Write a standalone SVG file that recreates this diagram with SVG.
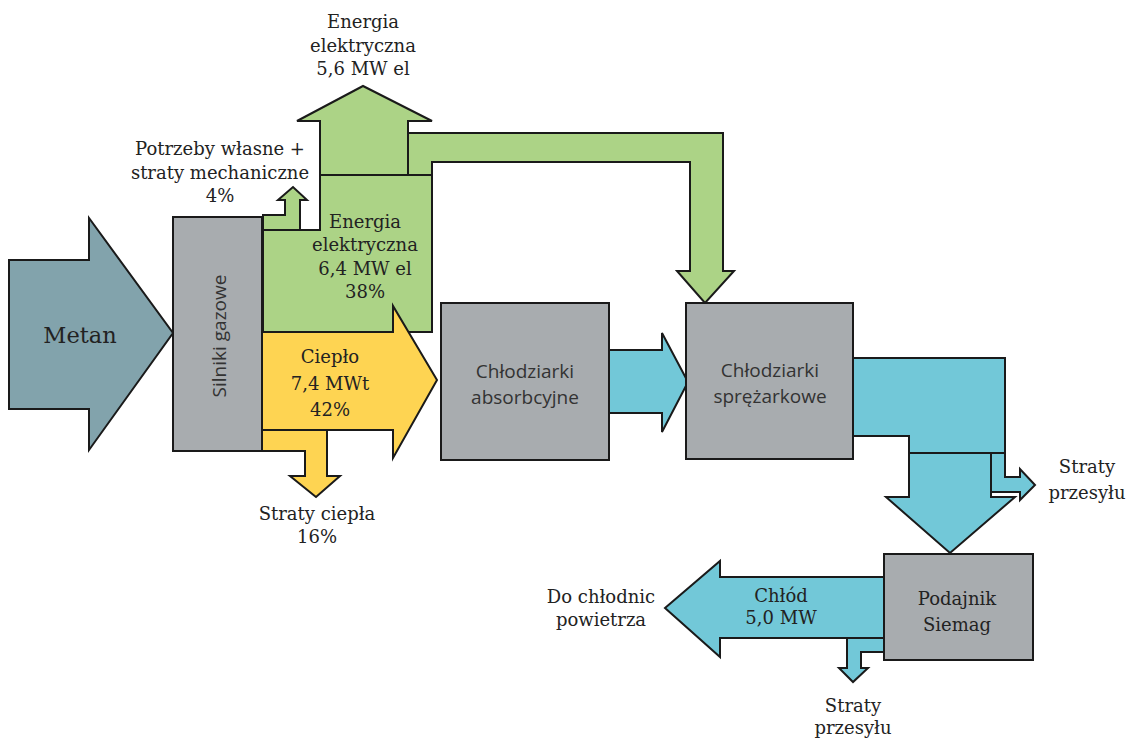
<svg xmlns="http://www.w3.org/2000/svg" width="1126" height="738" viewBox="0 0 1126 738">
<style>
.flow{stroke:#1a1a1a;stroke-width:2;stroke-linejoin:miter}
.green{fill:#acd386}
.yellow{fill:#fed452}
.cyan{fill:#72c8d8}
.metan{fill:#82a3ac}
.box{fill:#a8acaf;stroke:#1a1a1a;stroke-width:2}
.serif{font-family:"DejaVu Serif","Liberation Serif",serif;font-size:18px;fill:#222;text-anchor:middle}
.sans{font-family:"Open Sans","DejaVu Sans",sans-serif;font-size:19px;fill:#333;text-anchor:middle}
</style>
<rect width="1126" height="738" fill="#fff"/>
<g id="connectors">
  <polygon id="flow-metan" class="flow metan" points="9,260 89,260 89,218 173,333 89,450 89,409 9,409"/>
  <polygon id="flow-el-out" class="flow green" points="320,175 320,121 297,121 363,86 432,121 408,121 408,175"/>
  <polygon id="flow-el-branch" class="flow green" points="408,133 723,133 723,271 734,271 705,303 677,271 690,271 690,162 432,162 432,175 408,175"/>
  <polygon id="flow-el-main" class="flow green" points="263,230 320,230 320,175 432,175 432,332 263,332"/>
  <polygon id="flow-potrzeby" class="flow green" points="263,230 263,215 285,215 285,200 278,200 293,187 307,200 300,200 300,230"/>
  <polygon id="flow-cieplo" class="flow yellow" points="262,332 393,332 393,306 437,380 393,458 393,430 262,430"/>
  <polygon id="flow-straty-ciepla" class="flow yellow" points="262,430 327,430 327,476 340,476 316,497 290,476 305,476 305,451 262,451"/>
  <polygon id="flow-abs-spr" class="flow cyan" points="609,350 662,350 662,333 688,382 662,432 662,413 609,413"/>
  <polygon id="flow-spr-main" class="flow cyan" points="853,358 1005,358 1005,453 909,453 909,436 853,436"/>
  <polygon id="flow-spr-down" class="flow cyan" points="909,453 991,453 991,497 1015,497 950,553 886,497 909,497"/>
  <polygon id="flow-spr-loss" class="flow cyan" points="991,453 1005,453 1005,477 1020,477 1020,469 1035,485 1020,500 1020,492 991,492"/>
  <polygon id="flow-chlod" class="flow cyan" points="884,577 720,577 720,561 665,608 720,657 720,638 884,638"/>
  <polygon id="flow-chlod-loss" class="flow cyan" points="847,638 884,638 884,652 861,652 861,668 868,668 853,682 839,668 847,668"/>
</g>
<g id="node-silniki">
  <rect class="box" x="173" y="217" width="89" height="234"/>
  <text class="sans" transform="translate(226,336) rotate(-90)">Silniki gazowe</text>
</g>
<g id="node-absorbcyjne">
  <rect class="box" x="441" y="303" width="168" height="157"/>
  <text class="sans" x="525" y="378">Chłodziarki</text>
  <text class="sans" x="525" y="404">absorbcyjne</text>
</g>
<g id="node-sprezarkowe">
  <rect class="box" x="686" y="303" width="167" height="156"/>
  <text class="sans" x="770" y="377">Chłodziarki</text>
  <text class="sans" x="770" y="403">sprężarkowe</text>
</g>
<g id="node-podajnik">
  <rect class="box" x="884" y="554" width="149" height="106"/>
  <text class="serif" x="957" y="605">Podajnik</text>
  <text class="serif" x="957" y="631">Siemag</text>
</g>
<g id="labels">
  <text class="serif" x="80" y="343" style="font-size:22.5px">Metan</text>
  <text class="serif" x="363" y="28">Energia</text>
  <text class="serif" x="363" y="52">elektryczna</text>
  <text class="serif" x="363" y="75">5,6 MW el</text>
  <text class="serif" x="220" y="155">Potrzeby własne +</text>
  <text class="serif" x="220" y="179">straty mechaniczne</text>
  <text class="serif" x="220" y="202">4%</text>
  <text class="serif" x="365" y="228">Energia</text>
  <text class="serif" x="365" y="251">elektryczna</text>
  <text class="serif" x="365" y="275">6,4 MW el</text>
  <text class="serif" x="365" y="298">38%</text>
  <text class="serif" x="330" y="363">Ciepło</text>
  <text class="serif" x="330" y="390">7,4 MWt</text>
  <text class="serif" x="330" y="416">42%</text>
  <text class="serif" x="317" y="520">Straty ciepła</text>
  <text class="serif" x="317" y="543">16%</text>
  <text class="serif" x="1087" y="473">Straty</text>
  <text class="serif" x="1087" y="499">przesyłu</text>
  <text class="serif" x="601" y="603">Do chłodnic</text>
  <text class="serif" x="601" y="626">powietrza</text>
  <text class="serif" x="781" y="602">Chłód</text>
  <text class="serif" x="781" y="624">5,0 MW</text>
  <text class="serif" x="853" y="712">Straty</text>
  <text class="serif" x="853" y="734">przesyłu</text>
</g>
</svg>
